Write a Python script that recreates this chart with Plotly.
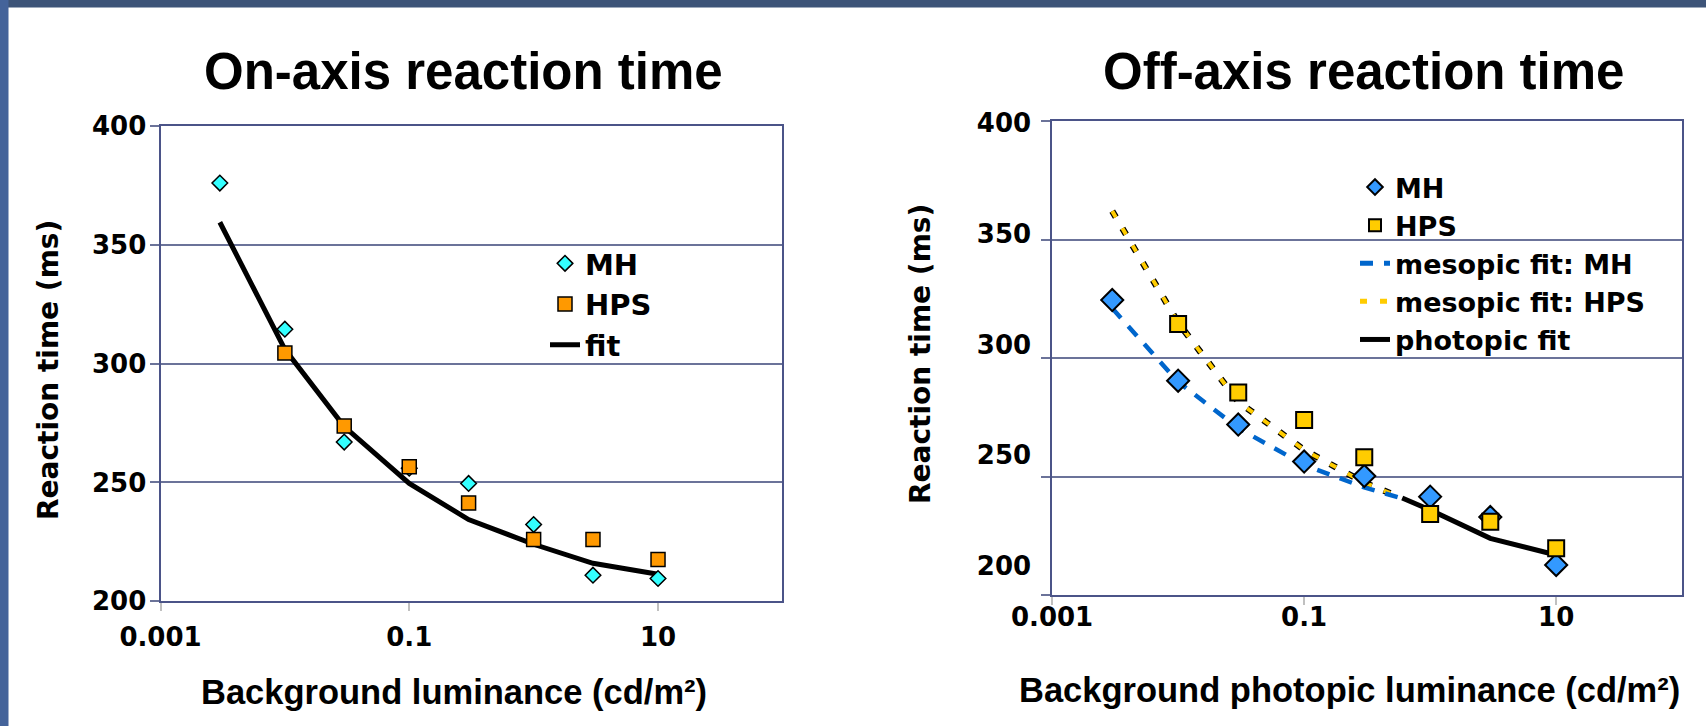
import plotly.graph_objects as go

# ---------------- data ----------------
LUM = [0.003, 0.01, 0.03, 0.1, 0.3, 1, 3, 10]

ON_MH = [376, 314.5, 267, 256, 249.6, 232.3, 211, 209.6]
ON_HPS = [None, 304.5, 273.8, 256.6, 241.4, 226, 226, 217.6]
ON_FIT = [359.5, 306, 273.5, 249.6, 234.4, 224, 216, 211.4]

OFF_MH = [324.5, 290.5, 272, 256.4, 250.3, 241.6, 233, 212.8]
OFF_HPS = [None, 314.4, 285.5, 273.9, 258.2, 234.3, 231, 219.8]
MESO_LUM = [0.003, 0.01, 0.03, 0.1, 0.3, 0.6]
MESO_MH_FIT = [321, 290, 270.5, 255, 245.5, 240.8]
MESO_HPS_FIT = [362, 315, 281.6, 261.3, 247.5, 241]
PHOT_LUM = [0.6, 1, 3, 10]
PHOT_FIT = [241, 236, 224, 217]

X_TICKS = [0.001, 0.1, 10]
X_TICK_TEXT = ["0.001", "0.1", "10"]
Y_TICKS = [200, 250, 300, 350, 400]

TITLE_LEFT = "On-axis reaction time"
TITLE_RIGHT = "Off-axis reaction time"
XTITLE_LEFT = "Background luminance (cd/m²)"
XTITLE_RIGHT = "Background photopic luminance (cd/m²)"
YTITLE = "Reaction time (ms)"

# ---------------- style ----------------
W, H = 1706, 726
NARROW = "Liberation Sans, Arial, sans-serif"
WIDE = "DejaVu Sans, Verdana, sans-serif"
GRID = "#6b7399"
FRAME = "#4b5488"

fig = go.Figure()

# ----- left chart -----
fig.add_trace(go.Scatter(x=LUM, y=ON_FIT, mode="lines", name="fit",
                         line=dict(color="black", width=5),
                         xaxis="x", yaxis="y", legend="legend", legendrank=3))
fig.add_trace(go.Scatter(x=LUM, y=ON_MH, mode="markers", name="MH",
                         marker=dict(symbol="diamond", size=12, color="#33ffff",
                                     line=dict(color="black", width=1.5)),
                         xaxis="x", yaxis="y", legend="legend", legendrank=1))
fig.add_trace(go.Scatter(x=LUM, y=ON_HPS, mode="markers", name="HPS",
                         marker=dict(symbol="square", size=14, color="#ff9900",
                                     line=dict(color="black", width=1.5)),
                         xaxis="x", yaxis="y", legend="legend", legendrank=2))

# ----- right chart -----
fig.add_trace(go.Scatter(x=PHOT_LUM, y=PHOT_FIT, mode="lines", name="photopic fit",
                         line=dict(color="black", width=5),
                         xaxis="x2", yaxis="y2", legend="legend2", legendrank=5))
fig.add_trace(go.Scatter(x=MESO_LUM, y=MESO_HPS_FIT, mode="lines", showlegend=False,
                         line=dict(color="black", width=6.5, dash="7px,13px"),
                         xaxis="x2", yaxis="y2", legend="legend2", hoverinfo="skip"))
fig.add_trace(go.Scatter(x=MESO_LUM, y=MESO_HPS_FIT, mode="lines", name="mesopic fit: HPS",
                         line=dict(color="#ffcc00", width=4, dash="7px,13px"),
                         xaxis="x2", yaxis="y2", legend="legend2", legendrank=4))
fig.add_trace(go.Scatter(x=MESO_LUM, y=MESO_MH_FIT, mode="lines", name="mesopic fit: MH",
                         line=dict(color="#0066cc", width=4.5, dash="13px,11px"),
                         xaxis="x2", yaxis="y2", legend="legend2", legendrank=3))
fig.add_trace(go.Scatter(x=LUM, y=OFF_MH, mode="markers", name="MH",
                         marker=dict(symbol="diamond", size=17, color="#3399ff",
                                     line=dict(color="black", width=2)),
                         xaxis="x2", yaxis="y2", legend="legend2", legendrank=1))
fig.add_trace(go.Scatter(x=LUM, y=OFF_HPS, mode="markers", name="HPS",
                         marker=dict(symbol="square", size=16, color="#ffcc00",
                                     line=dict(color="black", width=2)),
                         xaxis="x2", yaxis="y2", legend="legend2", legendrank=2))
# empty trace so the label axis of the right chart is drawn
fig.add_trace(go.Scatter(x=[], y=[], mode="markers", showlegend=False,
                         xaxis="x2", yaxis="y3", hoverinfo="skip"))

tickfont = dict(family=WIDE, size=26, color="black", weight="bold")

xcommon = dict(type="log", range=[-3, 2], tickmode="array", tickvals=X_TICKS,
               ticktext=X_TICK_TEXT, tickfont=tickfont, showgrid=False, zeroline=False,
               showline=True, linecolor=FRAME, linewidth=2, mirror=True, automargin=False,
               ticks="outside", ticklen=8, tickcolor="#c0c0c0", tickwidth=1.5)
ycommon = dict(range=[200, 400], tickmode="array", tickvals=Y_TICKS,
               showgrid=True, gridcolor=GRID, gridwidth=1.5, zeroline=False,
               showline=True, linecolor=FRAME, linewidth=2, mirror=True, automargin=False,
               ticks="outside", ticklen=9, tickcolor=GRID, tickwidth=1.5,
               tickfont=tickfont)

legfont_l = dict(family=WIDE, size=29, color="black", weight="bold")
legfont_r = dict(family=WIDE, size=27, color="black", weight="bold")

fig.update_layout(
    width=W, height=H, autosize=False,
    margin=dict(l=0, r=0, t=0, b=0, pad=0, autoexpand=False),
    paper_bgcolor="white", plot_bgcolor="white",
    xaxis=dict(domain=[160.5 / W, 782.4 / W], anchor="y", ticklabelstandoff=3, **xcommon),
    yaxis=dict(domain=[1 - 601.3 / H, 1 - 126 / H], anchor="x", ticklabelstandoff=-2, **ycommon),
    xaxis2=dict(domain=[1052.1 / W, 1682.2 / W], anchor="y2", ticklabelstandoff=-11, **xcommon),
    yaxis2=dict(domain=[1 - 595.3 / H, 1 - 121 / H], anchor="x2", showticklabels=False, **ycommon),
    yaxis3=dict(overlaying="y2", anchor="x2", side="left", range=[186.93, 400.68],
                tickmode="array", tickvals=Y_TICKS, showgrid=False, zeroline=False,
                showline=False, ticks="", tickfont=tickfont, ticklabelstandoff=20,
                automargin=False),
    legend=dict(x=545 / W, y=1 - 238 / H, xanchor="left", yanchor="top",
                bgcolor="rgba(0,0,0,0)", borderwidth=0, font=legfont_l),
    legend2=dict(x=1355 / W, y=1 - 163 / H, xanchor="left", yanchor="top",
                 bgcolor="rgba(0,0,0,0)", borderwidth=0, itemsizing="constant",
                 font=legfont_r),
    showlegend=True,
)

titlefont = dict(family=NARROW, size=51, color="black", weight="bold")
xtfont = dict(family=NARROW, size=34.5, color="black", weight="bold")
ytfont = dict(family=WIDE, size=28, color="black", weight="bold")
anns = [
    dict(text=TITLE_LEFT, x=463.5 / W, y=1 - 71.5 / H, font=titlefont),
    dict(text=TITLE_RIGHT, x=1363 / W, y=1 - 71.5 / H, font=titlefont),
    dict(text=XTITLE_LEFT, x=454 / W, y=1 - 691.5 / H, font=xtfont),
    dict(text=XTITLE_RIGHT, x=1349.5 / W, y=1 - 689.5 / H, font=xtfont),
    dict(text=YTITLE, x=48 / W, y=1 - 370 / H, font=ytfont, textangle=-90),
    dict(text=YTITLE, x=921 / W, y=1 - 354 / H, font=ytfont, textangle=-90),
]
for a in anns:
    fig.add_annotation(xref="paper", yref="paper", xanchor="center", yanchor="middle",
                       showarrow=False, **a)

# slide frame decoration
fig.add_shape(type="rect", xref="paper", yref="paper", x0=0, x1=1, y0=1 - 7.5 / H, y1=1,
              fillcolor="#3d5478", line=dict(width=0), layer="above")
fig.add_shape(type="rect", xref="paper", yref="paper", x0=0, x1=8.5 / W, y0=0, y1=1,
              fillcolor="#44639a", line=dict(width=0), layer="above")

fig.write_html(
    "out.html",
    config={"displayModeBar": False},
    post_script="document.body.style.margin='0';document.body.style.overflow='hidden';",
)
